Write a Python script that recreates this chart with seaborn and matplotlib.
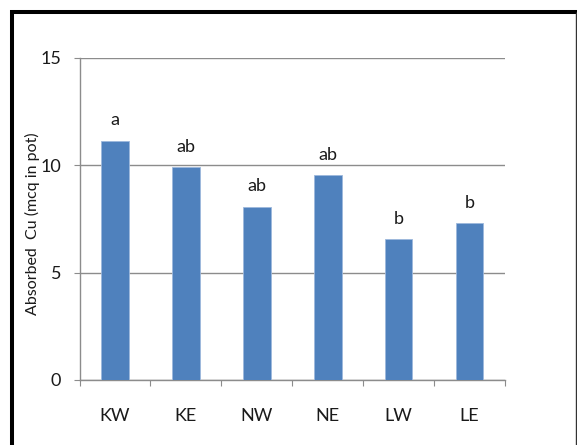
import matplotlib
matplotlib.use("Agg")
import matplotlib.pyplot as plt
from matplotlib.lines import Line2D
import seaborn as sns
import pandas as pd

# Absorbed copper per pot for each site, with significance letters
sites = ["KW", "KE", "NW", "NE", "LW", "LE"]
absorbed_cu = [11.15, 9.9, 8.07, 9.55, 6.57, 7.3]
sig_letters = ["a", "ab", "ab", "ab", "b", "b"]
y_ticks = [0, 5, 10, 15]

df = pd.DataFrame({"site": sites, "cu": absorbed_cu})

sns.set_theme(style="white")
plt.rcParams["font.family"] = ["Lato", "DejaVu Sans"]

W, H, DPI = 577, 445, 100
fig = plt.figure(figsize=(W / DPI, H / DPI), dpi=DPI)
fig.patch.set_facecolor("white")

x0, x1, y0, y1 = 79.5, 505, 380, 58
ax = fig.add_axes([x0 / W, (H - y0) / H, (x1 - x0) / W, (y0 - y1) / H])

sns.barplot(data=df, x="site", y="cu", ax=ax, color="#4F81BD",
            saturation=1, width=0.39, edgecolor="#9db8dc", linewidth=0.6,
            zorder=3)

ax.set_ylim(0, 15)
ax.set_xlim(-0.5, len(sites) - 0.5)
ax.set_yticks(y_ticks)
ax.set_yticklabels([str(t) for t in y_ticks])
ax.yaxis.grid(True, color="#8c8c8c", linewidth=1.0)
ax.set_axisbelow(True)

for side in ["top", "right"]:
    ax.spines[side].set_visible(False)
for side in ["left", "bottom"]:
    ax.spines[side].set_color("#8c8c8c")
    ax.spines[side].set_linewidth(1.0)

ax.tick_params(axis="y", which="major", direction="out", length=4.3,
               width=0.8, color="#8c8c8c", pad=9, labelsize=13,
               labelcolor="#1a1a1a", left=True)
ax.set_xticks(range(len(sites)))
ax.set_xticklabels(sites)
ax.set_xticks([i - 0.5 for i in range(len(sites) + 1)], minor=True)
ax.tick_params(axis="x", which="major", length=0, pad=20, labelsize=13,
               labelcolor="#1a1a1a")
ax.tick_params(axis="x", which="minor", direction="out", length=4.3,
               width=0.8, color="#8c8c8c", bottom=True)

ax.set_xlabel("")
ax.set_ylabel("Absorbed  Cu (mcq in pot)", fontsize=11.5, color="#1a1a1a")
ax.yaxis.set_label_coords((40 - x0) / (x1 - x0), 0.485)

for i, (v, lab) in enumerate(zip(absorbed_cu, sig_letters)):
    ax.annotate(lab, (i, v), xytext=(0, 11), textcoords="offset points",
                ha="center", va="baseline", fontsize=13, color="#1a1a1a")

# Outer frame drawn in figure pixel coordinates
px = lambda v, total: v / total
fig.add_artist(Line2D([px(12, W)] * 2, [0, px(H - 10, H)], color="black",
                      linewidth=2.9, transform=fig.transFigure,
                      solid_capstyle="butt"))
fig.add_artist(Line2D([px(10, W), px(577, W)], [px(H - 12, H)] * 2,
                      color="black", linewidth=2.9, transform=fig.transFigure,
                      solid_capstyle="butt"))
fig.add_artist(Line2D([px(575.5, W)] * 2, [0, px(H - 12, H)], color="#333333",
                      linewidth=1.0, transform=fig.transFigure,
                      solid_capstyle="butt"))

fig.savefig("out.png", dpi=DPI, facecolor="white")
